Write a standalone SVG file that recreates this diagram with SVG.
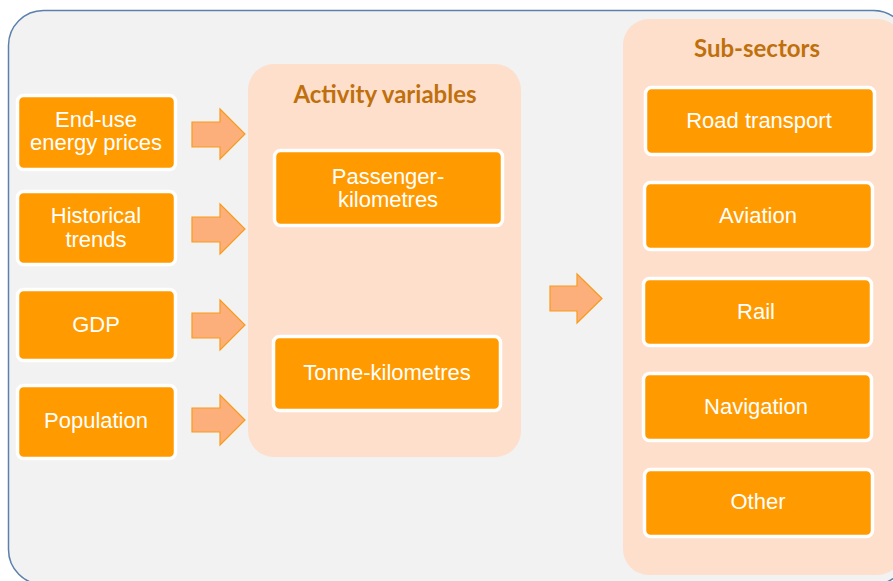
<svg xmlns="http://www.w3.org/2000/svg" width="893" height="581" viewBox="0 0 893 581">
<defs>
<style>
.frame{fill:#f2f2f2;stroke:#5b80ab;stroke-width:1.5}
.panel{fill:#fddfcc}
.box{fill:#ff9b00;stroke:#ffffff;stroke-width:3.5}
.lbl{font-family:"Liberation Sans",Arial,sans-serif;font-size:22px;fill:#ffffff;text-anchor:middle}
.ttl{font-family:Lato,"Open Sans",sans-serif;font-weight:bold;font-size:24px;fill:#bf700c;text-anchor:middle}
.arr{fill:#fdaf7b;stroke:#f79b1c;stroke-width:1.2}
</style>
</defs>
<rect class="frame" x="8.5" y="10.5" width="900" height="574" rx="35"/>

<g id="panel-activity">
<rect class="panel" x="248" y="64" width="273" height="393" rx="26"/>
<text class="ttl" x="385" y="103">Activity variables</text>
</g>
<g id="panel-subsectors">
<rect class="panel" x="623" y="19" width="280" height="556" rx="26"/>
<text class="ttl" x="757" y="57">Sub-sectors</text>
</g>

<g id="n-enduse">
<rect class="box" x="17.5" y="95.5" width="158" height="74" rx="6"/>
<text class="lbl" x="96" y="127">End-use</text>
<text class="lbl" x="96" y="150">energy prices</text>
</g>
<g id="n-historical">
<rect class="box" x="17.5" y="191.5" width="158" height="73" rx="6"/>
<text class="lbl" x="96" y="223">Historical</text>
<text class="lbl" x="96" y="247">trends</text>
</g>
<g id="n-gdp">
<rect class="box" x="17.5" y="289.5" width="158" height="71" rx="6"/>
<text class="lbl" x="96" y="332">GDP</text>
</g>
<g id="n-population">
<rect class="box" x="17.5" y="385.5" width="158" height="73" rx="6"/>
<text class="lbl" x="96" y="428">Population</text>
</g>

<g id="n-passenger">
<rect class="box" x="274.5" y="150.5" width="228" height="75" rx="6"/>
<text class="lbl" x="388" y="184">Passenger-</text>
<text class="lbl" x="388" y="207">kilometres</text>
</g>
<g id="n-tonne">
<rect class="box" x="273.5" y="336.5" width="227" height="74" rx="6"/>
<text class="lbl" x="387" y="380">Tonne-kilometres</text>
</g>

<g id="n-road">
<rect class="box" x="645.5" y="87.5" width="229" height="67" rx="6"/>
<text class="lbl" x="759" y="128">Road transport</text>
</g>
<g id="n-aviation">
<rect class="box" x="644.5" y="182.5" width="228" height="67" rx="6"/>
<text class="lbl" x="758" y="223">Aviation</text>
</g>
<g id="n-rail">
<rect class="box" x="643.5" y="278.5" width="228" height="67" rx="6"/>
<text class="lbl" x="756" y="319">Rail</text>
</g>
<g id="n-navigation">
<rect class="box" x="643.5" y="373.5" width="228" height="67" rx="6"/>
<text class="lbl" x="756" y="414">Navigation</text>
</g>
<g id="n-other">
<rect class="box" x="644.5" y="469.5" width="228" height="67" rx="6"/>
<text class="lbl" x="758" y="509">Other</text>
</g>

<g id="connectors">
<polygon class="arr" points="192,122 220,122 220,109 245,134 220,159 220,147 192,147"/>
<polygon class="arr" points="192,217 220,217 220,204 245,229 220,254 220,242 192,242"/>
<polygon class="arr" points="192,313 220,313 220,300 245,325 220,350 220,338 192,338"/>
<polygon class="arr" points="192,408 220,408 220,395 245,420 220,445 220,432 192,432"/>
<polygon class="arr" points="550,286 577,286 577,274 602,298.5 577,323 577,311 550,311"/>
</g>
</svg>
